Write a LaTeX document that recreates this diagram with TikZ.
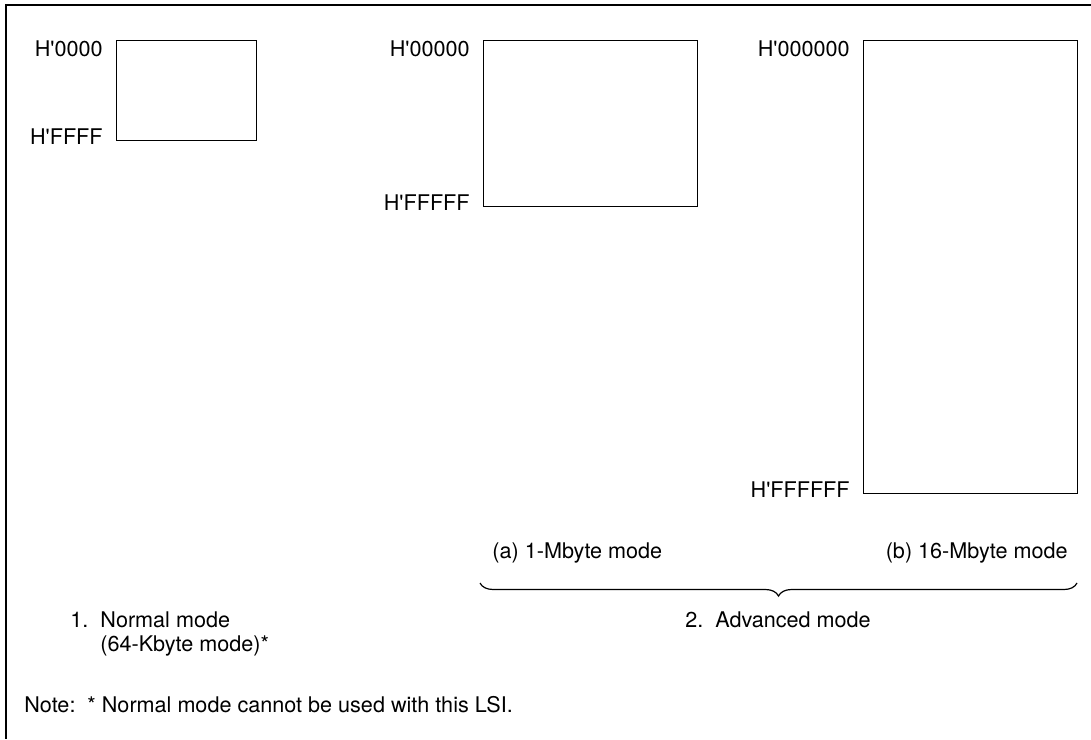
\documentclass[tikz,border=0pt]{standalone}
\usepackage{fontspec}
\setmainfont{TeX Gyre Heros}
\usepackage{tikz}
\usetikzlibrary{positioning,decorations.pathreplacing}

\begin{document}
\begin{tikzpicture}[
            x=0.5pt, y=-0.5pt,
            txt/.style={
                inner sep=0pt,
                font=\fontsize{10.8}{12.9}\selectfont
            },
            addr/.style={
                txt
            },
            membox/.style={
                draw,
                line width=0.6pt,
                inner sep=0pt,
                anchor=north west
            },
            frame/.style={
                line width=1pt
            },
            modebrace/.style={
                line width=0.6pt,
                decorate,
                decoration={brace, amplitude=6.5pt}
            }
        ]

            % Parameters
            \def\px{0.5pt}
            \def\yTop{40}
            \def\gap{13}
            \def\q{\textquotesingle}

            \useasboundingbox (0,0) rectangle (1091,739);

            % Frame (top and left edge only)
            \draw[frame] (1091,5) -- (6,5) -- (6,739);

            % Memory maps: box, start and end address
            \foreach \n/\x/\w/\h/\lo/\hi in {
                1/116/140/100/0000/FFFF,
                2/483/214/166/00000/FFFFF,
                3/863/214/453/000000/FFFFFF} {
                \node[membox, minimum width=\w*\px, minimum height=\h*\px] (m\n) at (\x,\yTop) {};
                \node[addr, anchor=north east] (lo\n) at ([xshift=-\gap*\px]m\n.north west) {H\q\lo};
                \node[addr, anchor=base east] (hi\n) at ([xshift=-\gap*\px, yshift=-3*\px]m\n.south west) {H\q\hi};
            }

            % Mode captions
            \node[txt, anchor=base west] (capa) at (492,558) {(a) 1-Mbyte mode};
            \node[txt, anchor=base east] (capb) at (1068,558) {(b) 16-Mbyte mode};

            % Brace over advanced mode
            \coordinate (bl) at (480,583);
            \coordinate (br) at (1077,583);
            \draw[modebrace] (br) -- (bl);
            \node[txt, anchor=base] (adv) at (778,627) {2.\ \ Advanced mode};

            % Normal mode
            \node[txt, anchor=base west] (norm) at (70,627) {1.\ \ Normal mode};
            \node[txt, anchor=base west] (kbyte) at (100,651) {(64-Kbyte mode)*};

            % Note
            \node[txt, anchor=base west] (note) at (24,712) {Note:\ \ * Normal mode cannot be used with this LSI.};

        \end{tikzpicture}
\end{document}
